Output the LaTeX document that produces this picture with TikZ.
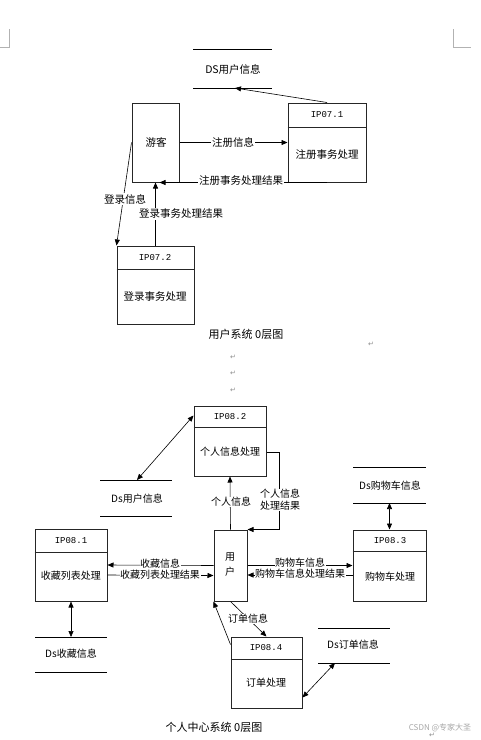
\documentclass[tikz,border=0pt]{standalone}
\usepackage{fontspec}
\setmonofont{Liberation Mono}
\newfontfamily\cjk{Noto Sans CJK SC}
\newfontfamily\symfont{DejaVu Sans}
\usetikzlibrary{arrows.meta,calc,positioning}

\begin{document}
\begin{tikzpicture}[x=1pt,y=-1pt,>={Triangle[length=6pt,width=5pt]},
  proc/.style={draw=black!85,line width=1pt,minimum width=#1},
  proc/.default=72pt,
  idtxt/.style={font=\ttfamily\fontsize{9}{10}\selectfont,inner sep=1pt},
  txt/.style={font=\cjk\fontsize{10.5}{12}\selectfont,inner sep=1pt},
  txts/.style={font=\cjk\fontsize{10}{12}\selectfont,inner sep=0.5pt},
  captxt/.style={font=\cjk\fontsize{11}{12}\selectfont,inner sep=1pt},
  lbl/.style={txt,fill=white},
  lbls/.style={txts,fill=white},
  flow/.style={->,line width=0.6pt},
  retmark/.style={font=\symfont\fontsize{7}{7}\selectfont,text=black!45,inner sep=0pt}]
  \useasboundingbox (0,0) rectangle (481,740);
  % page corner marks
  \draw[black!30,line width=0.6pt] (9,29) -- (9,47) -- (0,47);
  \draw[black!30,line width=0.6pt] (453,29) -- (453,47) -- (471,47);

  % ---- user system, level 0 ----
  % data store DS
  \draw[line width=0.9pt] (193,49) -- (272,49);
  \draw[line width=0.9pt] (193,88) -- (272,88);
  \node[txt] (dsuser) at (233,69) {DS用户信息};
  \coordinate (dsuserB) at (235,88);
  % visitor
  \node[proc=47pt,minimum height=79pt] (youke) at (155.5,142.5) {};
  \node[txt] (youketxt) at (156,142) {游客};
  % IP07.1
  \node[proc=78pt,minimum height=79pt] (p071) at (327,142.5) {};
  \draw[black!85,line width=1pt] ($(p071.north west)+(0,25)$) -- ($(p071.north east)+(0,25)$);
  \node[idtxt] (p071id) at (327,115) {IP07.1};
  \node[txt] (p071txt) at (327,155) {注册事务处理};
  % IP07.2
  \node[proc=77pt,minimum height=78pt] (p072) at (155.5,285) {};
  \draw[black!85,line width=1pt] ($(p072.north west)+(0,24)$) -- ($(p072.north east)+(0,24)$);
  \node[idtxt] (p072id) at (155,258) {IP07.2};
  \node[txt] (p072txt) at (155,297) {登录事务处理};
  % flows
  \draw[flow] (p071.north) -- (dsuserB);
  \draw[flow] (youke.east) -- (p071.west);
  \node[lbl] at (233,142) {注册信息};
  \draw[flow] (p071.south) -- ($(youke.south)+(4,0)$);
  \node[lbl] at (241,181) {注册事务处理结果};
  \draw[flow] (youke.west) -- (p072.north west);
  \node[lbl] at (125,199) {登录信息};
  \draw[flow] (p072.north) -- (youke.south);
  \node[lbl] at (181,214) {登录事务处理结果};
  \node[captxt] (cap1) at (246,334) {用户系统 0层图};

  % paragraph marks
  \node[retmark] at (371,344) {↵};
  \node[retmark] at (233,357) {↵};
  \node[retmark] at (233,373) {↵};
  \node[retmark] at (233,390) {↵};

  % ---- personal centre, level 0 ----
  % IP08.2
  \node[proc=72pt,minimum height=70pt] (p082) at (230,441) {};
  \draw[black!85,line width=1pt] ($(p082.north west)+(0,22)$) -- ($(p082.north east)+(0,22)$);
  \node[idtxt] (p082id) at (230,417) {IP08.2};
  \node[txts] (p082txt) at (230,452) {个人信息处理};
  % Ds user store
  \draw[line width=0.9pt] (100,480) -- (172,480);
  \draw[line width=0.9pt] (100,516) -- (172,516);
  \node[txts] (dsuser2) at (137,499) {Ds用户信息};
  \coordinate (dsuser2T) at (137,480);
  % user
  \node[proc=33pt,minimum height=71pt] (user) at (230.5,565.5) {};
  \node[txts,align=center] (usertxt) at (230,565) {用\\[3pt]户};
  % IP08.3 and its store
  \draw[line width=0.9pt] (353,467) -- (426,467);
  \draw[line width=0.9pt] (353,503) -- (426,503);
  \node[txts] (dscart) at (390,486) {Ds购物车信息};
  \coordinate (dscartB) at (389.5,503);
  \node[proc=73pt,minimum height=71pt] (p083) at (389.5,565.5) {};
  \draw[black!85,line width=1pt] ($(p083.north west)+(0,22)$) -- ($(p083.north east)+(0,22)$);
  \node[idtxt] (p083id) at (390,541) {IP08.3};
  \node[txts] (p083txt) at (390,577) {购物车处理};
  % IP08.1 and its store
  \node[proc=72pt,minimum height=72pt] (p081) at (71,565) {};
  \draw[black!85,line width=1pt] ($(p081.north west)+(0,24)$) -- ($(p081.north east)+(0,24)$);
  \node[idtxt] (p081id) at (71,541) {IP08.1};
  \node[txts] (p081txt) at (71,576) {收藏列表处理};
  \draw[line width=0.9pt] (35,637) -- (107,637);
  \draw[line width=0.9pt] (35,672) -- (107,672);
  \node[txts] (dsfav) at (71,654) {Ds收藏信息};
  \coordinate (dsfavT) at (71,637);
  % IP08.4 and its store
  \node[proc=71pt,minimum height=71pt] (p084) at (266.5,672.5) {};
  \draw[black!85,line width=1pt] ($(p084.north west)+(0,23)$) -- ($(p084.north east)+(0,23)$);
  \node[idtxt] (p084id) at (266,648) {IP08.4};
  \node[txts] (p084txt) at (266,683) {订单处理};
  \draw[line width=0.9pt] (318,628) -- (390,628);
  \draw[line width=0.9pt] (318,663) -- (390,663);
  \node[txts] (dsorder) at (353,645) {Ds订单信息};
  \coordinate (dsorderB) at (335,663);
  % flows
  \draw[<->,line width=0.6pt] (dsuser2T) -- ($(p082.north west)+(0,10)$);
  \draw[flow] (user.north) -- (p082.south);
  \node[lbls] at (231,502) {个人信息};
  \draw[flow] ($(p082.east)+(0,11)$) -- ++(13,0) |- (user.north east);
  \node[lbls,align=center] at (280,500) {个人信息\\处理结果};
  \draw[<->,line width=0.6pt] (dscartB) -- (p083.north);
  \draw[flow] (user.east) -- (p083.west);
  \node[lbls] at (300,563) {购物车信息};
  \draw[flow] ($(p083.west)+(0,9.5)$) -- ($(user.east)+(0,9.5)$);
  \node[lbls] at (300,574) {购物车信息处理结果};
  \draw[flow] (user.west) -- (p081.east);
  \node[lbls] at (160,564) {收藏信息};
  \draw[flow] ($(p081.east)+(0,10)$) -- ($(user.west)+(0,10)$);
  \node[lbls] at (160,575) {收藏列表处理结果};
  \draw[<->,line width=0.6pt] (p081.south) -- (dsfavT);
  \draw[flow] (user.south) -- (p084.north);
  \node[lbls] at (248,619) {订单信息};
  \draw[flow] ($(p084.north west)+(0,8)$) -- (user.south west);
  \draw[<->,line width=0.6pt] ($(p084.east)+(0,25)$) -- (dsorderB);
  \node[captxt] (cap2) at (214,727) {个人中心系统 0层图};

  % watermark
  \node[font=\cjk\fontsize{8}{9}\selectfont,text=black!35] at (440,728) {CSDN @专家大圣};
  \node[retmark] at (432,735.5) {↵};
\end{tikzpicture}
\end{document}
